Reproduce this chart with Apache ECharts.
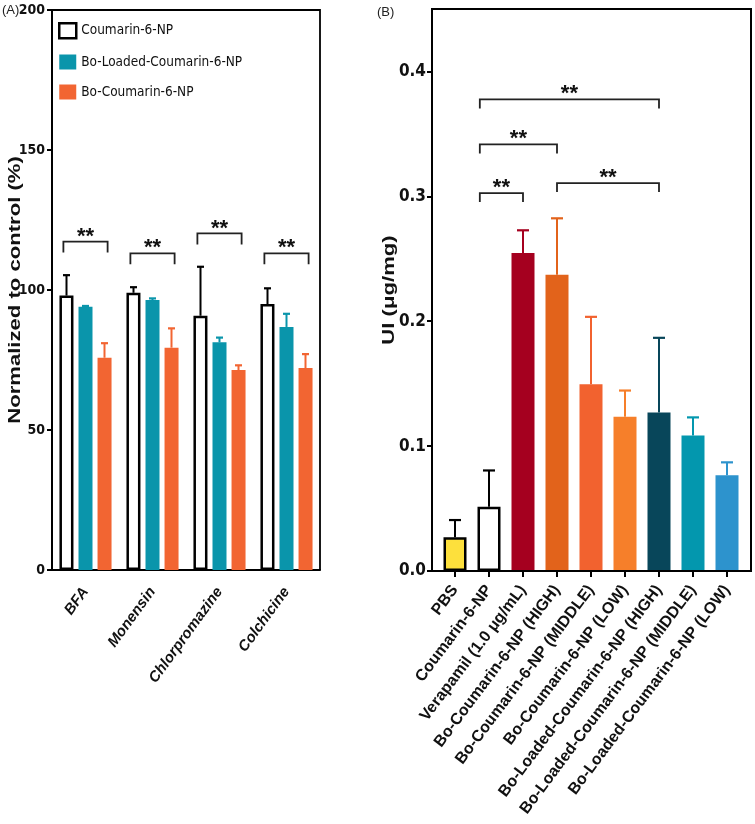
<!DOCTYPE html>
<html><head><meta charset="utf-8">
<script src="https://cdn.jsdelivr.net/npm/echarts@6/dist/echarts.min.js"></script>
<style>html,body{margin:0;padding:0;background:#fff}#c{width:755px;height:824px}</style>
</head><body><div id="c"></div>
<script>
// ---------- Panel A data ----------
const catsA = ['BFA', 'Monensin', 'Chlorpromazine', 'Colchicine'];
const namesA = ['Coumarin-6-NP', 'Bo-Loaded-Coumarin-6-NP', 'Bo-Coumarin-6-NP'];
const coumarinA = [98.0, 99.0, 90.8, 95.0];
const coumarinErrA = [105.3, 101.0, 108.3, 100.6];
const loadedA = [94.0, 96.4, 81.3, 86.8];
const loadedErrA = [94.3, 97.0, 83.0, 91.5];
const boA = [75.8, 79.4, 71.4, 72.1];
const boErrA = [81.0, 86.3, 73.1, 77.1];
const bracketsA = [[0, 117.3], [1, 113.1], [2, 120.2], [3, 113.1]];
const yTicksA = [0, 50, 100, 150, 200];

// ---------- Panel B data ----------
const catsB = ['PBS', 'Coumarin-6-NP', 'Verapamil (1.0 μg/mL)', 'Bo-Coumarin-6-NP (HIGH)',
  'Bo-Coumarin-6-NP (MIDDLE)', 'Bo-Coumarin-6-NP (LOW)', 'Bo-Loaded-Coumarin-6-NP (HIGH)',
  'Bo-Loaded-Coumarin-6-NP (MIDDLE)', 'Bo-Loaded-Coumarin-6-NP (LOW)'];
const valuesB = [0.027, 0.0514, 0.2546, 0.2373, 0.1496, 0.1235, 0.127, 0.1085, 0.0766];
const errTopB = [0.0408, 0.0805, 0.2728, 0.2824, 0.2035, 0.1445, 0.1867, 0.123, 0.087];
const bracketsB = [[1, 6, 0.3776], [1, 3, 0.3416], [1, 2, 0.3026], [3, 6, 0.3106]];
const yTicksB = [0, 0.1, 0.2, 0.3, 0.4];

// ---------- styles ----------
const colorsA = ['#ffffff', '#0a95ab', '#f26532'];
const errColorsA = ['#000000', '#0a95ab', '#f26532'];
const colorsB = ['#fde03c', '#ffffff', '#a5001f', '#e2631b', '#f2622f', '#f67f2a', '#08465a', '#0397ae', '#2d93cd'];
const bordersB = [true, true, false, false, false, false, false, false, false];
const NARROW = "'Liberation Sans Narrow','DejaVu Sans Condensed','Liberation Sans',Arial,sans-serif";
const SANS = "'Liberation Sans',Arial,Helvetica,sans-serif";

const chart = echarts.init(document.getElementById('c'), null, {renderer: 'canvas'});

const gA = {left: 52, top: 10, width: 268, height: 560};
const gB = {left: 438, top: 9, width: 306, height: 562};

const seriesDataA = [coumarinA, loadedA, boA];
const errDataA = [coumarinErrA, loadedErrA, boErrA];
const errItemsA = [];
for (let s = 0; s < 3; s++) for (let i = 0; i < catsA.length; i++) errItemsA.push([i, seriesDataA[s][i], errDataA[s][i], s]);
const errItemsB = valuesB.map((v, i) => [i, v, errTopB[i]]);

const barSeriesA = namesA.map((n, s) => ({
  name: n, type: 'bar', xAxisIndex: 0, yAxisIndex: 0,
  data: seriesDataA[s], barWidth: 14, barGap: '36%',
  itemStyle: s === 0 ? {color: colorsA[s], borderColor: '#000', borderWidth: 2.5} : {color: colorsA[s]},
  z: 2
}));

function bracketGroup(x1, x2, y, leg, color) {
  return {
    type: 'group', children: [
      {type: 'polyline', shape: {points: [[x1, y + leg], [x1, y], [x2, y], [x2, y + leg]]},
        style: {stroke: color, lineWidth: 1.8, fill: null}},
      {type: 'text', x: (x1 + x2) / 2, y: y - 5,
        style: {text: '**', font: 'bold 22px ' + SANS, fill: '#111', align: 'center', verticalAlign: 'middle'}}
    ]
  };
}

const option = {
  animation: false,
  backgroundColor: '#fff',
  grid: [
    Object.assign({}, gA, {containLabel: false}),
    Object.assign({}, gB, {containLabel: false})
  ],
  legend: {
    orient: 'vertical', left: 53, top: 17, itemWidth: 17, itemHeight: 15, itemGap: 15,
    icon: 'rect',
    textStyle: {fontFamily: NARROW, fontSize: 13.5, color: '#111'},
    data: [
      {name: namesA[0], itemStyle: {color: '#fff', borderColor: '#000', borderWidth: 2.5}},
      {name: namesA[1], itemStyle: {color: colorsA[1]}},
      {name: namesA[2], itemStyle: {color: colorsA[2]}}
    ],
    selectedMode: false
  },
  xAxis: [
    {type: 'category', gridIndex: 0, data: catsA,
      axisLine: {lineStyle: {color: '#000', width: 2.2}},
      axisTick: {alignWithLabel: true, length: 6, lineStyle: {color: '#000', width: 2}},
      axisLabel: {rotate: 54, margin: 19, fontFamily: SANS, fontWeight: 'bold', fontStyle: 'italic', fontSize: 15, color: '#111', interval: 0}
    },
    {type: 'category', gridIndex: 1, data: catsB,
      axisLine: {show: false},
      axisTick: {show: true, alignWithLabel: true, length: 6, lineStyle: {color: '#000', width: 2}},
      axisLabel: {rotate: 53, margin: 16, fontFamily: SANS, fontWeight: 'bold', fontSize: 16, color: '#111', interval: 0}
    }
  ],
  yAxis: [
    {type: 'value', gridIndex: 0, min: 0, max: 200, interval: 50,
      axisLine: {show: true, lineStyle: {color: '#000', width: 2}},
      axisTick: {show: true, length: 5, lineStyle: {color: '#000', width: 2}, customValues: yTicksA},
      axisLabel: {fontFamily: NARROW, fontWeight: 'bold', fontSize: 14, color: '#111', margin: 7, customValues: yTicksA},
      splitLine: {show: false}
    },
    {type: 'value', gridIndex: 1, min: 0, max: 0.45, interval: 0.1, offset: 6,
      axisLine: {show: true, lineStyle: {color: '#000', width: 2}},
      axisTick: {show: true, length: 5, lineStyle: {color: '#000', width: 2}, customValues: yTicksB},
      axisLabel: {fontFamily: NARROW, fontWeight: 'bold', fontSize: 17, color: '#111', margin: 6,
        customValues: yTicksB, formatter: v => v.toFixed(1)},
      splitLine: {show: false}
    }
  ],
  series: [
    ...barSeriesA,
    {type: 'custom', name: 'errA', xAxisIndex: 0, yAxisIndex: 0, data: errItemsA, z: 3,
      renderItem: function (params, api) {
        const s = api.value(3);
        const p0 = api.coord([api.value(0), api.value(1)]);
        const p1 = api.coord([api.value(0), api.value(2)]);
        const x = p0[0] + (s - 1) * 19;
        const col = errColorsA[s];
        return {type: 'group', children: [
          {type: 'line', shape: {x1: x, y1: p0[1], x2: x, y2: p1[1]}, style: {stroke: col, lineWidth: 2}},
          {type: 'line', shape: {x1: x - 3.5, y1: p1[1], x2: x + 3.5, y2: p1[1]}, style: {stroke: col, lineWidth: 2.2}}
        ]};
      }
    },
    {type: 'custom', name: 'sigA', xAxisIndex: 0, yAxisIndex: 0, data: bracketsA, z: 4,
      renderItem: function (params, api) {
        const c = api.coord([api.value(0), api.value(1)]);
        const band = api.size([1, 0])[0];
        return bracketGroup(c[0] - 0.33 * band, c[0] + 0.33 * band, c[1], 11, '#222');
      }
    },
    {type: 'bar', name: 'UI', xAxisIndex: 1, yAxisIndex: 1, barWidth: 23, z: 2,
      data: valuesB.map((v, i) => ({value: v, itemStyle: bordersB[i]
        ? {color: colorsB[i], borderColor: '#000', borderWidth: 2.5}
        : {color: colorsB[i]}}))
    },
    {type: 'custom', name: 'errB', xAxisIndex: 1, yAxisIndex: 1, data: errItemsB, z: 3,
      renderItem: function (params, api) {
        const i = api.value(0);
        const p0 = api.coord([i, api.value(1)]);
        const p1 = api.coord([i, api.value(2)]);
        const col = bordersB[i] ? '#000' : colorsB[i];
        return {type: 'group', children: [
          {type: 'line', shape: {x1: p0[0], y1: p0[1], x2: p0[0], y2: p1[1]}, style: {stroke: col, lineWidth: 2}},
          {type: 'line', shape: {x1: p0[0] - 6, y1: p1[1], x2: p0[0] + 6, y2: p1[1]}, style: {stroke: col, lineWidth: 2.2}}
        ]};
      }
    },
    {type: 'custom', name: 'sigB', xAxisIndex: 1, yAxisIndex: 1, data: bracketsB, z: 4,
      renderItem: function (params, api) {
        const a = api.coord([api.value(0), api.value(2)]);
        const b = api.coord([api.value(1), api.value(2)]);
        const band = api.size([1, 0])[0];
        const shift = api.value(0) === 1 ? -0.27 * band : 0;
        return bracketGroup(a[0] + shift, b[0], a[1], 9, '#222');
      }
    }
  ],
  graphic: [
    {type: 'polyline', shape: {points: [[gA.left, gA.top], [gA.left + gA.width, gA.top], [gA.left + gA.width, gA.top + gA.height]]},
      style: {stroke: '#000', lineWidth: 1.8, fill: null}, z: 10},
    {type: 'rect', shape: {x: gB.left - 6, y: gB.top, width: gB.width + 13, height: gB.height},
      style: {stroke: '#000', lineWidth: 2, fill: null}, z: 10},
    {type: 'text', x: 15, y: 290, rotation: Math.PI / 2, scaleX: 1.3,
      style: {text: 'Normalized to control (%)', font: 'bold 17px ' + SANS, fill: '#111', align: 'center', verticalAlign: 'middle'}},
    {type: 'text', x: 389, y: 290, rotation: Math.PI / 2, scaleX: 1.3,
      style: {text: 'UI (μg/mg)', font: 'bold 17px ' + SANS, fill: '#111', align: 'center', verticalAlign: 'middle'}},
    {type: 'text', x: 2, y: 4, style: {text: '(A)', font: '13px ' + SANS, fill: '#222'}},
    {type: 'text', x: 377, y: 6, style: {text: '(B)', font: '13px ' + SANS, fill: '#222'}}
  ]
};
chart.setOption(option);
</script>
</body></html>
